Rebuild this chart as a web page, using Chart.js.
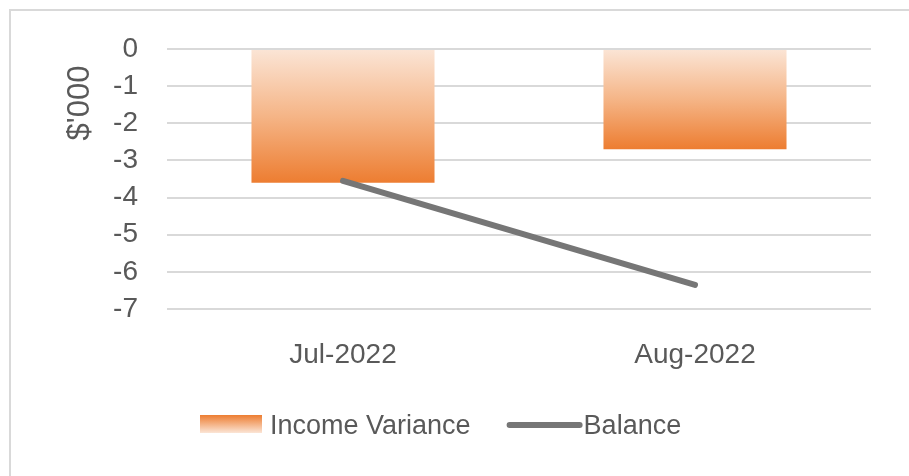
<!DOCTYPE html>
<html>
<head>
<meta charset="utf-8">
<title>Income Variance</title>
<script src="https://cdn.jsdelivr.net/npm/chart.js"></script>
<style>
  html, body { margin: 0; padding: 0; background: #fff; }
  #wrap { width: 909px; height: 476px; position: relative; }
</style>
</head>
<body>
<div id="wrap"><canvas id="chart" width="909" height="476"></canvas></div>
<script>
// Dados
const months = ['Jul-2022', 'Aug-2022'];
const incomeVariance = [-3.6, -2.7];
const balance = [-3.55, -6.35];
const yTicks = [0, -1, -2, -3, -4, -5, -6, -7];

const FONT = "'Liberation Sans', Arial, sans-serif";
const TEXT = '#595959';
const GRID = '#d9d9d9';

// gradiente de cada barra, do 0 até o valor
function barGradient(context) {
  const chart = context.chart;
  const y = chart.scales.y;
  if (!y || context.type !== 'data') return '#ed7d31';
  const y0 = y.getPixelForValue(0);
  const y1 = y.getPixelForValue(context.parsed.y);
  if (!isFinite(y0) || !isFinite(y1) || y0 === y1) return '#ed7d31';
  const g = chart.ctx.createLinearGradient(0, y0, 0, y1);
  g.addColorStop(0, '#fbe5d6');
  g.addColorStop(0.5, '#f5b587');
  g.addColorStop(1, '#ed7d31');
  return g;
}

// borda de cima e da esquerda + titulo do eixo + legenda
const extras = {
  id: 'extras',
  beforeDraw(chart) {
    const ctx = chart.ctx;
    ctx.save();
    ctx.strokeStyle = GRID;
    ctx.lineWidth = 2;
    ctx.beginPath();
    ctx.moveTo(10, chart.height);
    ctx.lineTo(10, 10);
    ctx.lineTo(chart.width, 10);
    ctx.stroke();
    ctx.restore();
  },
  afterDraw(chart) {
    const ctx = chart.ctx;
    const area = chart.chartArea;
    ctx.save();
    ctx.fillStyle = TEXT;
    ctx.font = '31px ' + FONT;
    // titulo do eixo y, perto do topo como no Excel
    ctx.translate(80, area.top + 54);
    ctx.rotate(-Math.PI / 2);
    ctx.textAlign = 'center';
    ctx.textBaseline = 'middle';
    ctx.fillText("$'000", 0, 0);
    ctx.restore();

    // legenda
    ctx.save();
    ctx.font = '27px ' + FONT;
    ctx.fillStyle = TEXT;
    ctx.textBaseline = 'middle';
    const ly = 424;
    let x = 200;
    const g = ctx.createLinearGradient(0, ly - 9, 0, ly + 9);
    g.addColorStop(0, '#ed7d31');
    g.addColorStop(1, '#fbe5d6');
    ctx.fillStyle = g;
    ctx.fillRect(x, ly - 9, 62, 18);
    x += 70;
    ctx.fillStyle = TEXT;
    const l1 = chart.data.datasets[0].label;
    ctx.fillText(l1, x, ly + 3);
    x += ctx.measureText(l1).width + 39;
    ctx.strokeStyle = '#767676';
    ctx.lineWidth = 6;
    ctx.lineCap = 'round';
    ctx.beginPath();
    ctx.moveTo(x, ly + 1);
    ctx.lineTo(x + 70, ly + 1);
    ctx.stroke();
    x += 74;
    ctx.fillText(chart.data.datasets[1].label, x, ly + 3);
    ctx.restore();
  }
};

const ctx = document.getElementById('chart').getContext('2d');
new Chart(ctx, {
  data: {
    labels: months,
    datasets: [
      {
        type: 'bar',
        label: 'Income Variance',
        data: incomeVariance,
        backgroundColor: barGradient,
        borderWidth: 0,
        categoryPercentage: 1,
        barPercentage: 0.52,
        order: 1
      },
      {
        type: 'line',
        label: 'Balance',
        data: balance,
        borderColor: '#767676',
        borderWidth: 6,
        borderCapStyle: 'round',
        pointRadius: 0,
        tension: 0,
        order: 0
      }
    ]
  },
  plugins: [extras],
  options: {
    responsive: false,
    animation: false,
    layout: { padding: { left: 10, right: 38, top: 49, bottom: 87 } },
    plugins: {
      legend: { display: false },
      tooltip: { enabled: false }
    },
    scales: {
      x: {
        grid: { display: false },
        border: { display: false },
        ticks: { color: TEXT, font: { family: FONT, size: 28 }, padding: 21 },
        afterFit(scale) {
          scale.height = 80;
          scale.paddingLeft = 0;
          scale.paddingRight = 0;
        }
      },
      y: {
        min: -7,
        max: 0,
        afterBuildTicks(scale) { scale.ticks = yTicks.map(v => ({ value: v })); },
        grid: { color: GRID, lineWidth: 2, drawTicks: false },
        border: { display: false },
        ticks: { color: TEXT, font: { family: FONT, size: 28 }, padding: 29 },
        afterFit(scale) {
          scale.width = 157;
          scale.paddingTop = 0;
          scale.paddingBottom = 0;
        }
      }
    }
  }
});
</script>
</body>
</html>
